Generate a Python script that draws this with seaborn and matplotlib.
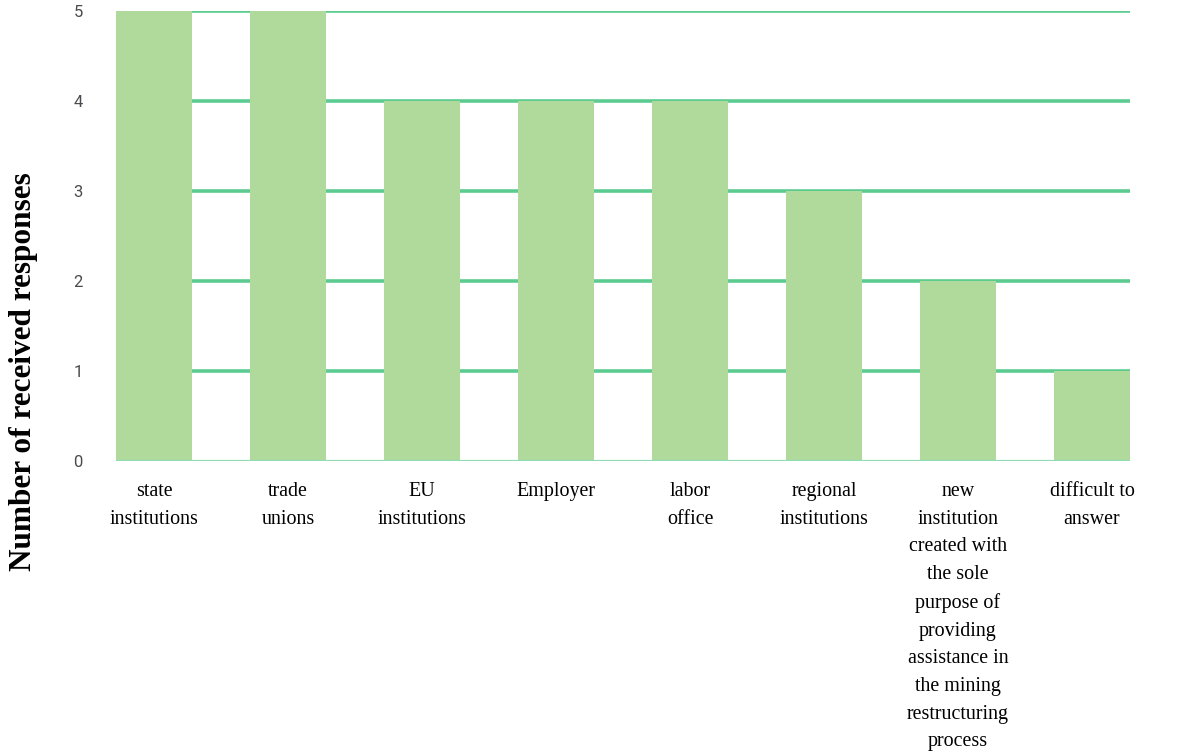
import matplotlib
matplotlib.use("Agg")
import matplotlib.pyplot as plt
import seaborn as sns
import pandas as pd

categories = [
    "state\ninstitutions",
    "trade\nunions",
    "EU\ninstitutions",
    "Employer",
    "labor\noffice",
    "regional\ninstitutions",
    "new\ninstitution\ncreated with\nthe sole\npurpose of\nproviding\nassistance in\nthe mining\nrestructuring\nprocess",
    "difficult to\nanswer",
]
responses = [5, 5, 4, 4, 4, 3, 2, 1]
y_ticks = [0, 1, 2, 3, 4, 5]

df = pd.DataFrame({"category": categories, "responses": responses})

sns.set_theme(style="white")
fig = plt.figure(figsize=(11.77, 7.55), dpi=100)
ax = fig.add_axes([116 / 1177, 1 - 461 / 755, (1130 - 116) / 1177, 450 / 755])

bar_w = 0.567
sns.barplot(data=df, x="category", y="responses", color="#b0d99c",
            saturation=1, width=bar_w, ax=ax, zorder=2, edgecolor="none")

ax.set_xlim(-bar_w / 2, len(categories) - 1 + bar_w / 2)
ax.set_ylim(0, 5)
ax.set_yticks(y_ticks)
for y in y_ticks[1:]:
    ax.axhline(y, color="#5ccb8f", lw=2.6, zorder=1)
ax.axhline(0, color="#8fdcb4", lw=1.6, zorder=3)

for s in ax.spines.values():
    s.set_visible(False)

ax.tick_params(axis="y", length=0, pad=24, labelsize=12, labelcolor="#4a4a4f")
for t in ax.get_yticklabels():
    t.set_fontfamily("Roboto")
ax.tick_params(axis="x", length=0, pad=15, labelsize=14.4, labelcolor="black")
for t in ax.get_xticklabels():
    t.set_fontfamily("Liberation Serif")
    t.set_linespacing(1.62)
    t.set_verticalalignment("top")

ax.set_xlabel("")
ax.set_ylabel("Number of received responses", fontfamily="Liberation Serif",
              fontweight="bold", fontsize=22.5, color="black")
ax.yaxis.set_label_coords(-92 / 1014, (461 - 372) / 450, transform=ax.transAxes)
ax.yaxis.label.set_verticalalignment("center")

fig.savefig("out.png", dpi=100, facecolor="white")
